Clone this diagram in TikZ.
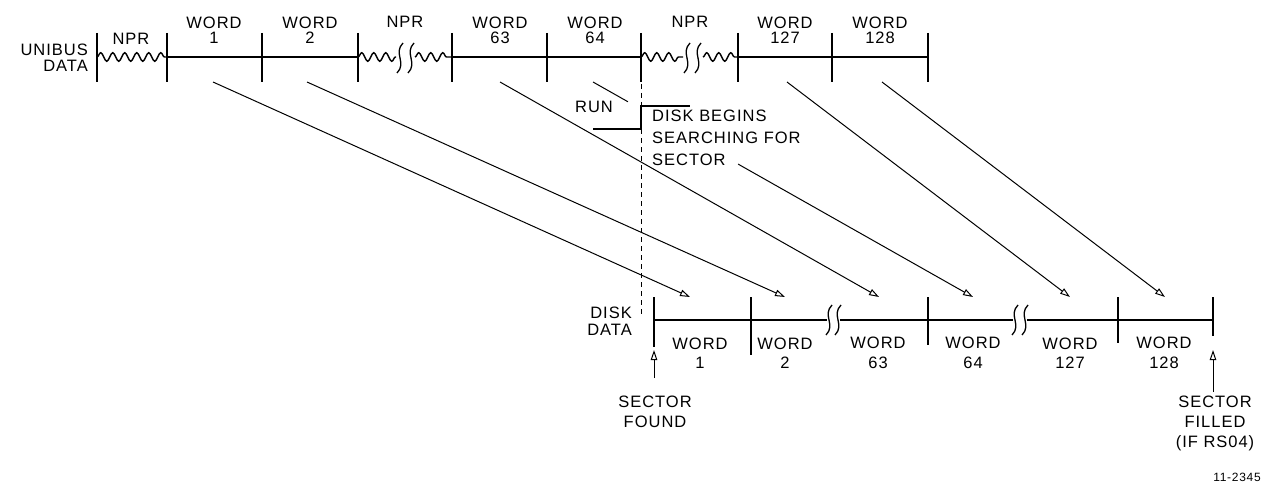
\documentclass[tikz,border=0pt]{standalone}
\usepackage{fontspec}
\setmainfont{Liberation Sans}[LetterSpace=6]
\usetikzlibrary{arrows.meta,decorations.pathmorphing,calc}
\begin{document}
\begin{tikzpicture}[x=1pt,y=-1pt,
  toplbl/.style={font=\fontsize{16.5}{15}\selectfont, inner sep=0pt, align=center},
  botlbl/.style={font=\fontsize{16.5}{19.5}\selectfont, inner sep=0pt, align=center},
  bus/.style={line width=2.3pt},
  tickln/.style={line width=1.3pt},
  xfer/.style={line width=1pt, -{Triangle[open,length=10pt,width=6.5pt]}},
  plainln/.style={line width=1pt},
  wave/.style={line width=1.4pt, decorate, decoration={snake, segment length=12pt, amplitude=4.3pt}},
  brk/.pic={\draw[line width=1.3pt] (3,-15) .. controls (-7,-5) and (7,5) .. (-3,15);}
]
\useasboundingbox (0,0) rectangle (1276,484);

% ---------- UNIBUS timeline ----------
\foreach \n/\x in {0/97,1/167,2/262,3/358,4/452,5/547,6/641,7/738,8/832,9/928}{
  \coordinate (t\n) at (\x,57);
  \draw[tickln] (\x,33) -- (\x,82);
}
\draw[bus] (t1) -- (t3);
\draw[bus] (t4) -- (t6);
\draw[bus] (t7) -- (t9);
\draw[wave] (t0) -- (t1);
\draw[wave] (t3) -- (396,57);
\draw[wave] (415,57) -- (t4);
\draw[wave] (t6) -- (683,57);
\draw[wave] (703,57) -- (t7);
\pic at (400,58) {brk};
\pic at (411,58) {brk};
\pic at (687,58) {brk};
\pic at (698,58) {brk};

\node[toplbl, anchor=east, align=right, font=\fontsize{16.5}{16}\selectfont] (ub) at (88,58) {UNIBUS\\DATA};
\node[toplbl] (n0) at (131,39) {NPR};
\node[toplbl] (u1) at (214,30) {WORD\\1};
\node[toplbl] (u2) at (310,30) {WORD\\2};
\node[toplbl] (n1) at (405,22) {NPR};
\node[toplbl] (u63) at (500,30) {WORD\\63};
\node[toplbl] (u64) at (595,30) {WORD\\64};
\node[toplbl] (n2) at (690,22) {NPR};
\node[toplbl] (u127) at (785,30) {WORD\\127};
\node[toplbl] (u128) at (880,30) {WORD\\128};

% ---------- RUN signal ----------
\coordinate (dtop) at (641,84);
\coordinate (dbot) at (641,316);
\draw[line width=1pt, dash pattern=on 5pt off 4pt] (dtop) -- (dbot);
\coordinate (r0) at (593,129);
\coordinate (r1) at (641,129);
\coordinate (r2) at (641,106);
\coordinate (r3) at (690,106);
\draw[line width=2.3pt] (r0) -- (r1) -- (r2) -- (r3);
\node[toplbl] (run) at (594,107) {RUN};
\node[botlbl, anchor=north west, align=left, font=\fontsize{16.5}{22}\selectfont] (dbs) at (652,110) {DISK BEGINS\\SEARCHING FOR\\SECTOR};

% ---------- Disk timeline ----------
\foreach \n/\x/\b in {0/654/347,1/751/355,2/928/345,3/1118/343,4/1213/336}{
  \coordinate (b\n) at (\x,320);
  \draw[tickln] (\x,297) -- (\x,\b);
}
\coordinate (k1) at (827,320);
\coordinate (k2) at (840,320);
\coordinate (k3) at (1013,320);
\coordinate (k4) at (1027,320);
\draw[bus] (b0) -- (b1) -- (k1);
\draw[bus] (k2) -- (b2) -- (k3);
\draw[bus] (k4) -- (b3) -- (b4);
\pic at (829,320) {brk};
\pic at (838,320) {brk};
\pic at (1015,320) {brk};
\pic at (1025,320) {brk};

\node[botlbl, anchor=east, align=right, font=\fontsize{16.5}{17}\selectfont] (dd) at (632,321) {DISK\\DATA};
\node[botlbl] (d1l) at (700,353) {WORD\\1};
\node[botlbl] (d2l) at (785,353) {WORD\\2};
\node[botlbl] (d63l) at (878,353) {WORD\\63};
\node[botlbl] (d64l) at (973,353) {WORD\\64};
\node[botlbl] (d127l) at (1070,353) {WORD\\127};
\node[botlbl] (d128l) at (1164,353) {WORD\\128};

% ---------- transfer arrows ----------
\coordinate (w1) at (213,82);   \coordinate (e1) at (690,297);
\coordinate (w2) at (307,82);   \coordinate (e2) at (785,297);
\coordinate (w63) at (500,82);  \coordinate (e63) at (879,297);
\coordinate (w64) at (593,82);  \coordinate (e64) at (973,297);
\coordinate (w127) at (787,82); \coordinate (e127) at (1070,297);
\coordinate (w128) at (882,82); \coordinate (e128) at (1165,297);
\draw[xfer] (w1) -- (e1);
\draw[xfer] (w2) -- (e2);
\draw[xfer] (w63) -- (e63);
\draw[plainln] (w64) -- ($(w64)!0.092!(e64)$);
\draw[xfer] ($(w64)!0.382!(e64)$) -- (e64);
\draw[xfer] (w127) -- (e127);
\draw[xfer] (w128) -- (e128);

% ---------- sector marks ----------
\coordinate (sf0) at (654,378);
\coordinate (sf1) at (654,350);
\coordinate (sl0) at (1213,392);
\coordinate (sl1) at (1213,350);
\draw[xfer] (sf0) -- (sf1);
\draw[xfer] (sl0) -- (sl1);
\node[botlbl] (sfound) at (655,412) {SECTOR\\FOUND};
\node[botlbl, font=\fontsize{16.5}{20}\selectfont] (sfill) at (1215,423) {SECTOR\\FILLED\\(IF RS04)};
\node[inner sep=0pt, font=\fontsize{12}{12}\selectfont] (fig) at (1237,477) {11-2345};
\end{tikzpicture}
\end{document}
